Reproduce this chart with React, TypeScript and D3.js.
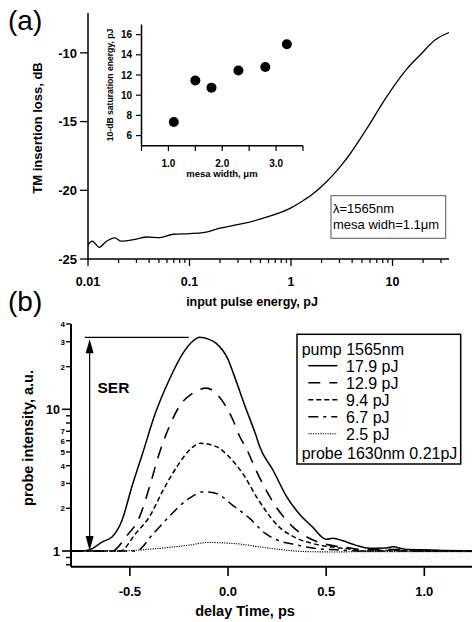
import * as d3 from "d3";

// (a) TM insertion loss vs input pulse energy
const pulseEnergy = [0.01, 0.011, 0.0129, 0.015, 0.0185, 0.021, 0.03, 0.038, 0.051, 0.069, 0.1, 0.136, 0.2, 0.314, 0.534, 1.0, 1.3, 1.66, 2.25, 2.61, 3.27, 3.81, 5.57, 8.77, 13.8, 18.7, 26.2, 36];
const insertionLoss = [-23.98, -23.7, -24.15, -23.74, -23.47, -23.7, -23.55, -23.4, -23.45, -23.2, -23.15, -23.08, -22.76, -22.47, -22.03, -21.28, -20.78, -20.24, -19.36, -18.86, -18.0, -17.36, -15.52, -13.18, -11.18, -10.16, -9.07, -8.52];
const lossTicks = [-25, -20, -15, -10];
const energyMajor = [0.01, 0.1, 1, 10];
const energyLabels = ["0.01", "0.1", "1", "10"];

// inset: 10-dB saturation energy vs mesa width
const mesaWidth = [1.1, 1.5, 1.8, 2.3, 2.8, 3.2];
const satEnergy = [7.35, 11.45, 10.75, 12.45, 12.8, 15.05];
const satTicks = [6, 8, 10, 12, 14, 16];
const mesaTicks = [0.5, 1.0, 1.5, 2.0, 2.5, 3.0, 3.5];
const mesaLabels = [1.0, 2.0, 3.0];

// (b) probe intensity vs delay, one pair of arrays per pump energy
const delay179 = [-0.8, -0.75, -0.705, -0.64, -0.59, -0.54, -0.49, -0.435, -0.37, -0.3, -0.23, -0.18, -0.145, -0.1, -0.06, 0.0, 0.03, 0.09, 0.143, 0.16, 0.23, 0.3, 0.36, 0.43, 0.5, 0.535, 0.585, 0.65, 0.72, 0.8, 0.84, 0.9, 1.0, 1.1, 1.25];
const probe179 = [1.0, 1.0, 1.02, 1.16, 1.26, 1.65, 2.84, 4.9, 9.4, 16.1, 24.8, 30.2, 32.2, 31.3, 29.2, 22.5, 17.5, 10.2, 6.5, 5.5, 3.7, 2.4, 1.85, 1.48, 1.21, 1.23, 1.18, 1.1, 1.045, 1.05, 1.07, 1.03, 1.02, 1.01, 1.0];
const delay129 = [-0.8, -0.7, -0.59, -0.52, -0.45, -0.4, -0.35, -0.3, -0.25, -0.18, -0.11, -0.04, 0.025, 0.06, 0.093, 0.143, 0.245, 0.33, 0.43, 0.52, 0.6, 0.7, 0.8, 0.9, 1.0, 1.1, 1.25];
const probe129 = [1.0, 1.0, 1.0, 1.26, 1.75, 2.84, 4.9, 7.5, 10.4, 13.0, 14.1, 12.0, 8.4, 6.4, 5.3, 3.7, 2.05, 1.48, 1.2, 1.1, 1.06, 1.02, 1.03, 1.02, 1.0, 1.0, 1.0];
const delay94 = [-0.8, -0.6, -0.55, -0.47, -0.4, -0.33, -0.26, -0.2, -0.14, -0.06, 0.0, 0.076, 0.15, 0.26, 0.35, 0.43, 0.52, 0.6, 0.7, 0.8, 1.0, 1.25];
const probe94 = [1.0, 1.0, 1.0, 1.33, 1.75, 2.7, 3.94, 5.1, 5.75, 5.45, 4.7, 3.5, 2.35, 1.48, 1.23, 1.13, 1.07, 1.04, 1.0, 1.01, 1.0, 1.0];
const delay67 = [-0.8, -0.6, -0.47, -0.38, -0.3, -0.21, -0.12, -0.06, 0.024, 0.11, 0.19, 0.26, 0.33, 0.43, 0.55, 0.7, 0.85, 1.0, 1.25];
const probe67 = [1.0, 1.0, 1.0, 1.33, 1.75, 2.29, 2.62, 2.55, 2.1, 1.7, 1.33, 1.18, 1.12, 1.05, 1.02, 1.0, 1.0, 1.0, 1.0];
const delay25 = [-0.8, -0.55, -0.4, -0.3, -0.2, -0.1, -0.02, 0.06, 0.16, 0.25, 0.4, 0.55, 0.7, 0.9, 1.1, 1.25];
const probe25 = [1.0, 1.0, 1.03, 1.06, 1.1, 1.15, 1.14, 1.12, 1.07, 1.03, 0.99, 0.985, 0.99, 0.99, 0.99, 0.99];
const pumpLabels = ["17.9 pJ", "12.9 pJ", "9.4 pJ", "6.7 pJ", "2.5 pJ"];
const delayTicks = [-0.5, 0.0, 0.5, 1.0];
const probeMajor = [1, 10];
const probeMinor = [0.8, 0.9, 2, 3, 4, 5, 6, 7, 8, 9, 20, 30, 40];
const probeMinorLabeled = [2, 3, 4, 5, 6, 7, 20, 30, 40];

const FONT = "'Liberation Sans', Arial, sans-serif";

export default function App() {
  // panel (a)
  const xA = d3.scaleLog().domain([0.01, 36]).range([88, 449]);
  const yA = d3.scaleLinear().domain([-25, -7.1]).range([259, 13]);
  const energyMinor: number[] = [];
  energyMajor.forEach((m) => {
    for (let k = 2; k <= 9; k++) if (m * k <= 36) energyMinor.push(m * k);
  });
  const lossLine = d3
    .line<number>()
    .x((_, i) => xA(pulseEnergy[i]))
    .y((d) => yA(d))
    .curve(d3.curveMonotoneX)(insertionLoss);

  // inset
  const xI = d3.scaleLinear().domain([0.5, 3.5]).range([141.5, 303]);
  const yI = d3.scaleLinear().domain([5, 17]).range([145.7, 24.5]);

  // panel (b)
  const xB = d3.scaleLinear().domain([-0.8, 1.25]).range([71, 473.4]);
  const yB = d3.scaleLog().domain([0.775, 40]).range([566.7, 324]);
  const series = [
    { t: delay179, v: probe179, dash: "none", w: 1.5 },
    { t: delay129, v: probe129, dash: "12,9", w: 1.6 },
    { t: delay94, v: probe94, dash: "5,3", w: 1.5 },
    { t: delay67, v: probe67, dash: "10,5,3,5", w: 1.5 },
    { t: delay25, v: probe25, dash: "1.2,1.2", w: 1.1 },
  ];
  const lineB = (t: number[], v: number[]) =>
    d3
      .line<number>()
      .x((_, i) => xB(t[i]))
      .y((d) => yB(d))
      .curve(d3.curveMonotoneX)(v);

  const serPeak = d3.max(probe179) as number;
  const serX = xB(-0.705);
  const serTopY = yB(serPeak);
  const serBotY = yB(1);

  const legX = 297;
  const legY = 334.3;

  return (
    <svg
      width={472}
      height={622}
      style={{ position: "absolute", left: 0, top: 0, background: "#fff" }}
      fontFamily={FONT}
    >
      <rect width={472} height={622} fill="#fff" />

      {/* ---------- (a) ---------- */}
      <text x={8} y={30} fontSize={28}>(a)</text>

      <line x1={xA.range()[0]} x2={xA.range()[0]} y1={yA.range()[1]} y2={yA.range()[0]} stroke="#000" strokeWidth={1.5} />
      {lossTicks.map((v) => (
        <g key={v}>
          <line x1={80} x2={88} y1={yA(v)} y2={yA(v)} stroke="#000" strokeWidth={1.3} />
          <text x={77} y={yA(v)} dy="0.36em" textAnchor="end" fontSize={13} fontWeight="bold">{String(v)}</text>
        </g>
      ))}
      <line x1={xA.range()[0]} x2={xA.range()[1]} y1={259} y2={259} stroke="#000" strokeWidth={1.5} />
      {energyMajor.map((v, i) => (
        <g key={v}>
          <line x1={xA(v)} x2={xA(v)} y1={259} y2={266} stroke="#000" strokeWidth={1.3} />
          <text x={xA(v)} y={286} textAnchor="middle" fontSize={12.5} fontWeight="bold">{energyLabels[i]}</text>
        </g>
      ))}
      {energyMinor.map((v) => (
        <line key={v} x1={xA(v)} x2={xA(v)} y1={259} y2={263} stroke="#000" strokeWidth={1.2} />
      ))}
      <text x={252} y={306} textAnchor="middle" fontSize={12.5} fontWeight="bold">input pulse energy, pJ</text>
      <text transform={`translate(41.5, 128) rotate(-90)`} textAnchor="middle" fontSize={13} fontWeight="bold">TM insertion loss, dB</text>

      <path d={lossLine ?? ""} fill="none" stroke="#000" strokeWidth={1.3} />

      <rect x={331} y={195.7} width={114.7} height={42.6} fill="#fff" stroke="#555" strokeWidth={1} />
      <text x={333} y={213.3} fontSize={13}>λ=1565nm</text>
      <text x={333} y={228.5} fontSize={13}>mesa widh=1.1μm</text>

      {/* inset */}
      <line x1={141.5} x2={141.5} y1={yI.range()[1]} y2={yI.range()[0]} stroke="#000" strokeWidth={1.5} />
      {satTicks.map((v) => (
        <g key={v}>
          <line x1={136} x2={141.5} y1={yI(v)} y2={yI(v)} stroke="#000" strokeWidth={1.2} />
          <text x={132} y={yI(v)} dy="0.36em" textAnchor="end" fontSize={10} fontWeight="bold">{v}</text>
        </g>
      ))}
      <line x1={xI.range()[0]} x2={xI.range()[1]} y1={145.7} y2={145.7} stroke="#000" strokeWidth={1.5} />
      {mesaTicks.map((v) => (
        <line key={v} x1={xI(v)} x2={xI(v)} y1={145.7} y2={151} stroke="#000" strokeWidth={1.2} />
      ))}
      {mesaLabels.map((v) => (
        <text key={v} x={xI(v)} y={166.5} textAnchor="middle" fontSize={10} fontWeight="bold">{v.toFixed(1)}</text>
      ))}
      <text x={222} y={176.5} textAnchor="middle" fontSize={9.5} fontWeight="bold">mesa width,  μm</text>
      <text transform={`translate(112.5, 85) rotate(-90)`} textAnchor="middle" fontSize={8.6} fontWeight="bold">10-dB saturation energy, pJ</text>
      {mesaWidth.map((m, i) => (
        <circle key={m} cx={xI(m)} cy={yI(satEnergy[i])} r={5} fill="#000" />
      ))}

      {/* ---------- (b) ---------- */}
      <text x={8} y={311} fontSize={28}>(b)</text>

      {series.map((s, i) => (
        <path key={i} d={lineB(s.t, s.v) ?? ""} fill="none" stroke="#000" strokeWidth={s.w} strokeDasharray={s.dash} />
      ))}

      <line x1={71} x2={71} y1={yB.range()[1]} y2={yB.range()[0]} stroke="#000" strokeWidth={2} />
      {probeMajor.map((v) => (
        <g key={v}>
          <line x1={62} x2={71} y1={yB(v)} y2={yB(v)} stroke="#000" strokeWidth={1.6} />
          <text x={60} y={yB(v)} dy="0.36em" textAnchor="end" fontSize={12.5} fontWeight="bold">{v}</text>
        </g>
      ))}
      {probeMinor.map((v) => (
        <line key={v} x1={66} x2={71} y1={yB(v)} y2={yB(v)} stroke="#000" strokeWidth={1.4} />
      ))}
      {probeMinorLabeled.map((v) => (
        <text key={v} x={65} y={yB(v)} dy="0.36em" textAnchor="end" fontSize={8} fontWeight="bold">{v >= 10 ? v / 10 : v}</text>
      ))}
      <line x1={71} x2={xB.range()[1]} y1={566.7} y2={566.7} stroke="#000" strokeWidth={2} />
      {delayTicks.map((v) => (
        <g key={v}>
          <line x1={xB(v)} x2={xB(v)} y1={566.7} y2={576} stroke="#000" strokeWidth={1.6} />
          <text x={xB(v)} y={596} textAnchor="middle" fontSize={13} fontWeight="bold">{v.toFixed(1)}</text>
        </g>
      ))}
      <text x={245} y={616} textAnchor="middle" fontSize={14.5} fontWeight="bold">delay Time, ps</text>
      <text transform={`translate(33, 438) rotate(-90)`} textAnchor="middle" fontSize={14.5} fontWeight="bold">probe intensity, a.u.</text>

      {/* SER annotation */}
      <line x1={xB(-0.73)} x2={xB(-0.2)} y1={serTopY} y2={serTopY} stroke="#000" strokeWidth={1.2} />
      <line x1={serX} x2={serX} y1={serTopY + 8} y2={serBotY - 8} stroke="#000" strokeWidth={1.2} />
      <path d={`M${serX},${serTopY + 2}L${serX - 4},${serTopY + 16}L${serX + 4},${serTopY + 16}Z`} fill="#000" />
      <path d={`M${serX},${serBotY}L${serX - 4},${serBotY - 15}L${serX + 4},${serBotY - 15}Z`} fill="#000" />
      <text x={xB(-0.665)} y={yB(13)} fontSize={15.5} fontWeight="bold">SER</text>

      {/* legend */}
      <rect x={legX} y={legY} width={163.7} height={129.7} fill="#fff" stroke="#000" strokeWidth={1.5} />
      <text x={legX + 4.7} y={355} fontSize={16}>pump 1565nm</text>
      {series.map((s, i) => {
        const by = 371.7 + i * 17;
        return (
          <g key={i}>
            <line x1={308.3} x2={337.3} y1={by - 6} y2={by - 6} stroke="#000" strokeWidth={s.w} strokeDasharray={s.dash} />
            <text x={346} y={by} fontSize={16}>{pumpLabels[i]}</text>
          </g>
        );
      })}
      <text x={legX + 4.7} y={458.5} fontSize={16}>probe 1630nm 0.21pJ</text>
    </svg>
  );
}
